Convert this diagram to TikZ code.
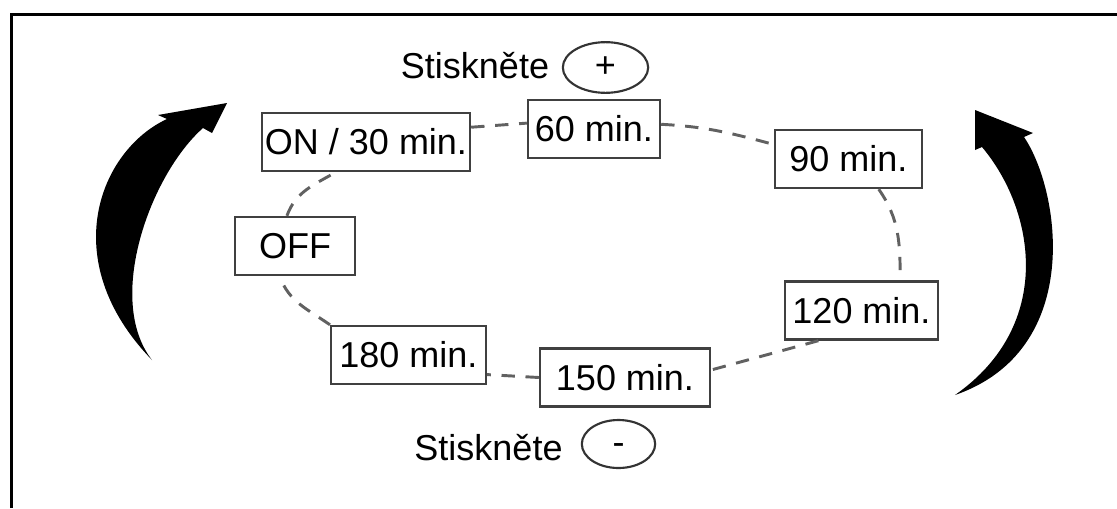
\documentclass[tikz,border=0pt]{standalone}
\usepackage{fontspec}
\setmainfont{Liberation Sans}
\usetikzlibrary{shapes.geometric}

\tikzset{every picture/.style={line width=0.75pt}}
\tikzset{
  timebox/.style={draw=black!75, line width=1.8pt, inner sep=0pt, minimum height=43.5pt, font=\fontsize{27}{32}\selectfont},
  button/.style={ellipse, draw=black!80, line width=1.6pt, inner sep=0pt, text height=17pt, text depth=2pt, font=\fontsize{27}{32}\selectfont},
  label/.style={inner sep=0pt, font=\fontsize{27}{32}\selectfont},
  loopline/.style={draw=black!62, line width=2.2pt, dash pattern=on 10pt off 8pt},
}

\begin{document}
\begin{tikzpicture}[x=0.75pt,y=0.75pt,yscale=-1,xscale=1]
	\useasboundingbox (0,0) rectangle (1117,508);
	
	%Straight Lines [id:frame] 
	\draw [line width=2.25pt] (11,508) -- (11,14) -- (1117,14) ;
	
	%Shape: Curved Arrow [id:leftarrow] 
	\fill (227,103) -- (158,115) -- (167,119) .. controls (100,150) and (55,260) .. (152,360) .. controls (105,300) and (150,175) .. (203,128) -- (212,133) -- cycle ;
	%Shape: Curved Arrow [id:rightarrow] 
	\fill (975,110) -- (1033,133) -- (1024,137) .. controls (1060,190) and (1085,350) .. (955,395) .. controls (1055,325) and (1035,210) .. (982,147) -- (975,150) -- cycle ;
	
	% Text Node
	\node [label] (pluslbl) at (475,66) {Stiskněte};
	% Text Node
	\node [button, minimum width=64pt, minimum height=38pt] (plusbtn) at (605.5,67.5) {+};
	% Text Node
	\node [label] (minuslbl) at (488.5,447.5) {Stiskněte};
	% Text Node
	\node [button, minimum width=55pt, minimum height=36pt] (minusbtn) at (618.5,444) {-};
	
	% Text Node
	\node [timebox, minimum width=156pt] (on) at (366,142) {ON / 30 min.};
	% Text Node
	\node [timebox, minimum width=99pt] (sixty) at (594,129) {60 min.};
	% Text Node
	\node [timebox, minimum width=110pt] (ninety) at (848.5,159) {90 min.};
	% Text Node
	\node [timebox, minimum width=115pt] (onetwenty) at (861.5,310.5) {120 min.};
	% Text Node
	\node [timebox, minimum width=127.5pt] (onefifty) at (625,377.5) {150 min.};
	% Text Node
	\node [timebox, minimum width=116pt] (oneeighty) at (408.5,355) {180 min.};
	% Text Node
	\node [timebox, minimum width=90pt] (off) at (295,246) {OFF};
	
	%Curve Lines [id:loop] 
	\draw [loopline] (on.8) -- (sixty.175) ;
	\draw [loopline] (sixty.4) to [out=3, in=195] (ninety.169) ;
	\draw [loopline] (ninety.-45) to [out=55, in=-90] (onetwenty.38) ;
	\draw [loopline] (onetwenty.-145) -- (onefifty.5) ;
	\draw [loopline] (onefifty.west) -- (oneeighty.-14) ;
	\draw [loopline] (oneeighty.north west) to [out=-145, in=70] (off.-117) ;
	\draw [loopline] (off.105) to [out=-70, in=150] (on.-135) ;
	
\end{tikzpicture}
\end{document}
